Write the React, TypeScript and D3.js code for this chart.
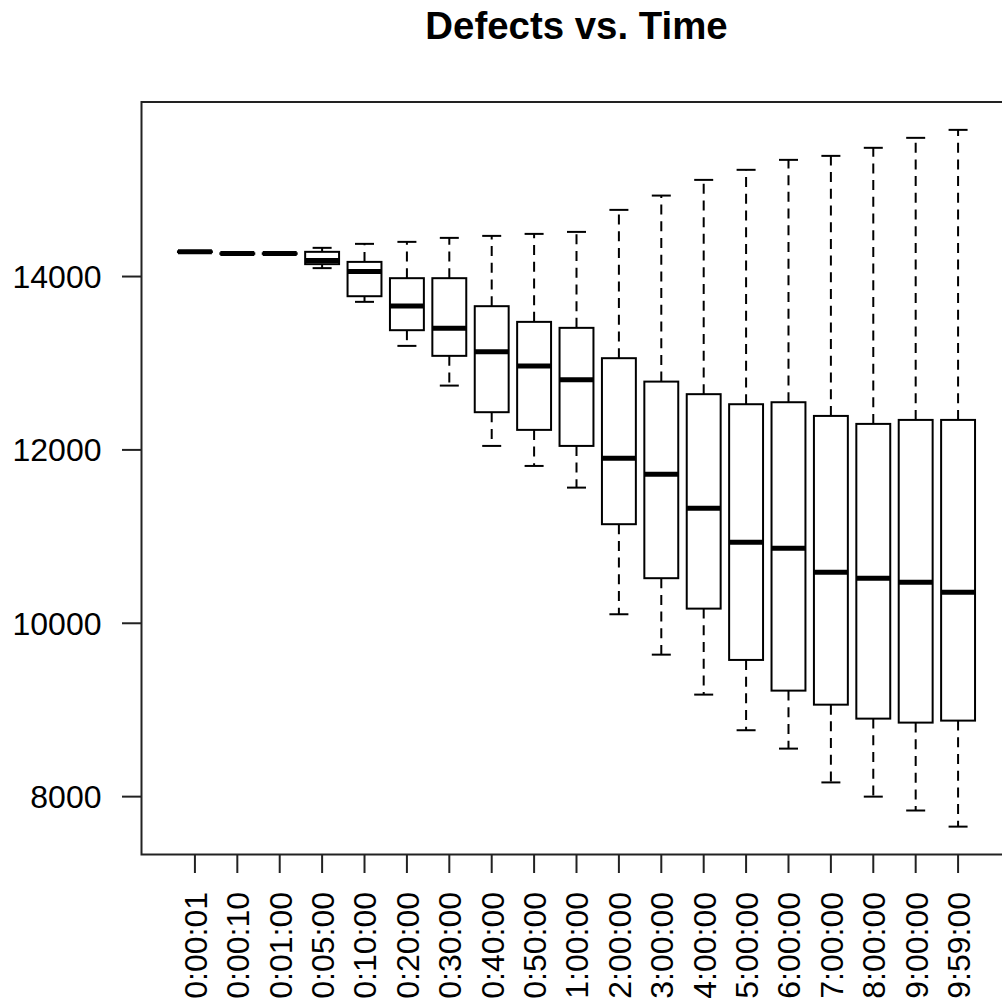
import React from "react";
import * as d3 from "d3";

const categories = ["0:00:01","0:00:10","0:01:00","0:05:00","0:10:00","0:20:00","0:30:00","0:40:00","0:50:00","1:00:00","2:00:00","3:00:00","4:00:00","5:00:00","6:00:00","7:00:00","8:00:00","9:00:00","9:59:00"];
const mins =    [14280, 14260, 14260, 14097, 13708, 13200, 12742, 12046, 11815, 11565, 10104, 9638, 9177, 8766, 8554, 8164, 8000, 7840, 7654];
const q1s =     [14282, 14262, 14262, 14143, 13773, 13381, 13085, 12435, 12231, 12046, 11143, 10520, 10169, 9577, 9223, 9061, 8900, 8854, 8877];
const medians = [14285, 14265, 14265, 14186, 14057, 13661, 13404, 13131, 12969, 12808, 11904, 11720, 11327, 10935, 10866, 10589, 10520, 10473, 10358];
const q3s =     [14290, 14268, 14268, 14285, 14169, 13981, 13981, 13658, 13477, 13408, 13058, 12788, 12643, 12527, 12550, 12392, 12300, 12346, 12346];
const maxs =    [14295, 14270, 14270, 14331, 14377, 14400, 14446, 14469, 14492, 14515, 14769, 14934, 15115, 15231, 15346, 15392, 15485, 15600, 15692];
const yTicks = [8000, 10000, 12000, 14000];
const title = "Defects vs. Time";

const FONT = "'Liberation Sans', Arial, Helvetica, sans-serif";

export default function App() {
  const n = categories.length;
  const lo = d3.min(mins)!;
  const hi = d3.max(maxs)!;
  const r = hi - lo;
  const top = 102;
  const bottom = 854.5;
  const y = d3.scaleLinear().domain([lo - 0.04 * r, hi + 0.04 * r]).range([bottom, top]);
  const ext = 0.5 + 0.04 * n;
  const x = d3.scaleLinear().domain([1 - ext, n + ext]).range([141.5, 1011.5]);
  const unit = x(2) - x(1);
  const bw = 0.4 * unit;
  const sw = 9.5;
  const dash = "10,6.7";

  return (
    <svg width={1002} height={1004} style={{ position: "absolute", left: 0, top: 0, background: "#fff" }}>
      <rect x={0} y={0} width={1002} height={1004} fill="#fff" />
      <text x={(x.range()[0] + x.range()[1]) / 2} y={38.5} textAnchor="middle" fontFamily={FONT} fontWeight="bold" fontSize={38.4} fill="#000">{title}</text>
      {categories.map((c, i) => {
        const cx = x(i + 1);
        return (
          <g key={c}>
            <line x1={cx} x2={cx} y1={y(q3s[i])} y2={y(maxs[i])} stroke="#000" strokeWidth={2} strokeDasharray={dash} />
            <line x1={cx} x2={cx} y1={y(q1s[i])} y2={y(mins[i])} stroke="#000" strokeWidth={2} strokeDasharray={dash} />
            <line x1={cx - sw} x2={cx + sw} y1={y(maxs[i])} y2={y(maxs[i])} stroke="#000" strokeWidth={2} />
            <line x1={cx - sw} x2={cx + sw} y1={y(mins[i])} y2={y(mins[i])} stroke="#000" strokeWidth={2} />
            <rect x={cx - bw} y={y(q3s[i])} width={2 * bw} height={Math.max(0, y(q1s[i]) - y(q3s[i]))} fill="#fff" stroke="#000" strokeWidth={2} />
            <line x1={cx - bw} x2={cx + bw} y1={y(medians[i])} y2={y(medians[i])} stroke="#000" strokeWidth={5} />
          </g>
        );
      })}
      <rect x={x.range()[0]} y={top} width={x.range()[1] - x.range()[0]} height={bottom - top} fill="none" stroke="#222" strokeWidth={2} />
      {yTicks.map((t) => (
        <g key={t}>
          <line x1={141.5} x2={122} y1={y(t)} y2={y(t)} stroke="#222" strokeWidth={2} />
          <text x={101.5} y={y(t)} dy="0.36em" textAnchor="end" fontFamily={FONT} fontSize={32} fill="#000">{t}</text>
        </g>
      ))}
      {categories.map((c, i) => {
        const cx = x(i + 1);
        return (
          <g key={"t" + c}>
            <line x1={cx} x2={cx} y1={bottom} y2={873} stroke="#222" strokeWidth={2} />
            <text transform={`translate(${cx},892) rotate(-90)`} dy="0.37em" textAnchor="end" fontFamily={FONT} fontSize={32} fill="#000">{c}</text>
          </g>
        );
      })}
    </svg>
  );
}
